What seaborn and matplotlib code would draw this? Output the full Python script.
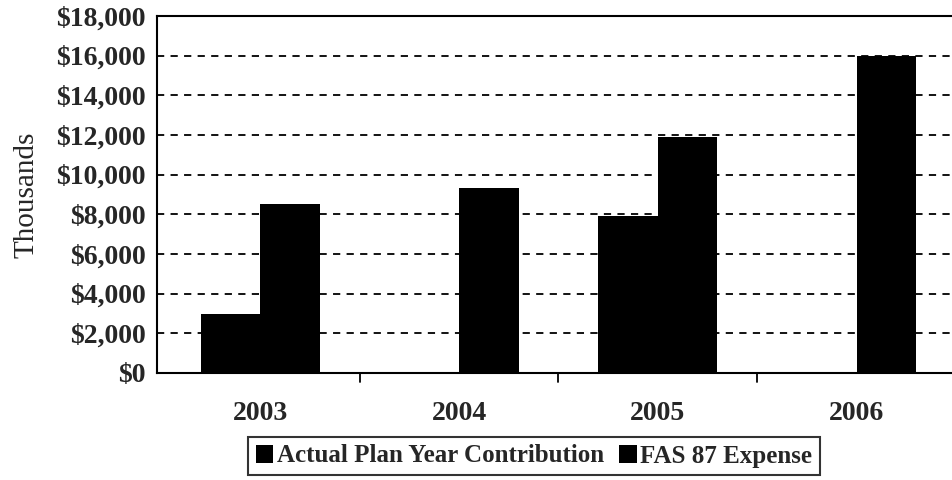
import matplotlib
matplotlib.use("Agg")
import matplotlib.pyplot as plt
import seaborn as sns
import pandas as pd

# Pension funding figures, in thousands of dollars
years = ["2003", "2004", "2005", "2006"]
contribution = [3000, 0, 7900, 0]
fas87_expense = [8500, 9350, 11900, 16000]
series_names = ["Actual Plan Year Contribution", "FAS 87 Expense"]
y_ticks = [0, 2000, 4000, 6000, 8000, 10000, 12000, 14000, 16000, 18000]
y_tick_labels = ["$0", "$2,000", "$4,000", "$6,000", "$8,000", "$10,000",
                 "$12,000", "$14,000", "$16,000", "$18,000"]

df = pd.DataFrame({
    "Year": years * 2,
    "Series": [series_names[0]] * len(years) + [series_names[1]] * len(years),
    "Value": contribution + fas87_expense,
})

sns.set_theme(style="white")
plt.rcParams["font.family"] = ["Liberation Serif", "DejaVu Serif"]
plt.rcParams["font.weight"] = "bold"

fig = plt.figure(figsize=(9.52, 4.8), dpi=100)
ax = fig.add_axes([157 / 952, 1 - 373 / 480, 1 - 157 / 952, (373 - 16) / 480])

sns.barplot(data=df, x="Year", y="Value", hue="Series", order=years,
            hue_order=series_names, palette=["black", "black"],
            width=0.6, saturation=1, linewidth=0, ax=ax, legend=True)

ax.set_ylim(0, 18000)
ax.set_xlim(-0.52, 3.48)
ax.set_yticks(y_ticks)
ax.set_yticklabels(y_tick_labels, fontsize=20, fontweight="bold")
ax.set_xticks(range(len(years)))
ax.set_xticklabels(years, fontsize=20, fontweight="bold")
ax.tick_params(axis="x", length=0, pad=20)
ax.tick_params(axis="y", direction="inout", length=12, width=1.3, color="black", pad=2)

# Category boundary ticks on the x axis
for b in [0.5, 1.5, 2.5]:
    ax.plot([b, b], [0, -0.025], transform=ax.get_xaxis_transform(),
            color="black", lw=1.3, clip_on=False)

# Dashed horizontal gridlines
for t in y_ticks[1:-1]:
    ax.axhline(t, color="black", lw=1.3, dashes=(4, 3.5), zorder=0)

for side in ["left", "bottom", "top"]:
    ax.spines[side].set_visible(True)
    ax.spines[side].set_color("black")
    ax.spines[side].set_linewidth(1.5)
ax.spines["right"].set_visible(False)

ax.set_xlabel("")
ax.set_ylabel("Thousands", fontsize=21, fontweight="normal", labelpad=12)

handles, labels = ax.get_legend_handles_labels()
ax.get_legend().remove()
leg = fig.legend(handles, labels, loc="center", bbox_to_anchor=(0.561, 0.05),
                 ncol=2, frameon=True, fancybox=False, edgecolor="black",
                 prop={"family": "Liberation Serif", "weight": "bold", "size": 18},
                 handlelength=0.7, handleheight=0.7, handletextpad=0.15,
                 columnspacing=0.6, borderpad=0.3, borderaxespad=0)
leg.get_frame().set_linewidth(1.5)

fig.savefig("out.png", dpi=100)
